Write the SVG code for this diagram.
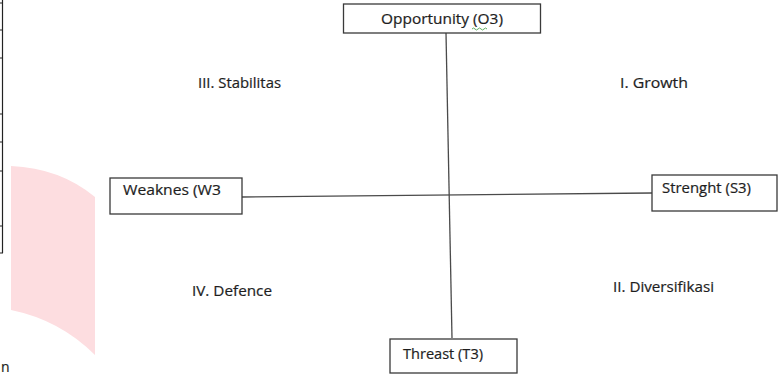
<svg xmlns="http://www.w3.org/2000/svg" width="779" height="375" viewBox="0 0 779 375">
<style>
.box{fill:#fff;stroke:#3a3a3a;stroke-width:1.3}
.t{font-family:"Open Sans","Liberation Sans",sans-serif;font-size:14px;fill:#1e1e1e;stroke:#1e1e1e;stroke-width:0.2}
.ln{stroke:#4a4a4a;stroke-width:1.3;fill:none}
.tb{stroke:#222;stroke-width:1.2;fill:none}
</style>
<rect width="779" height="375" fill="#fff"/>
<g id="table-fragment">
<path class="tb" d="M2.5 0V253"/>
<path class="tb" d="M0 3H3M0 30H3M0 58H3M0 114H3M0 142H3M0 171H3M0 226H3M0 253H3"/>
</g>
<path id="pink-shape" d="M11 166Q60 168 95 197V355Q60 320 11 310Z" fill="#fddde0"/>
<text class="t" x="1" y="372" font-size="8">n</text>
<g id="connectors">
<path class="ln" d="M446 33L452 338"/>
<path class="ln" d="M242 197L652 193"/>
</g>
<g id="opportunity">
<rect class="box" x="343.5" y="4" width="197" height="29"/>
<text class="t" x="381" y="24" textLength="122" lengthAdjust="spacingAndGlyphs">Opportunity (O3)</text>
<path d="M472 29q1.5-2 3 0t3 0t3 0t3 0t3 0" stroke="#3a9a3a" stroke-width="0.8" fill="none"/>
</g>
<g id="weakness">
<rect class="box" x="110" y="178" width="132" height="36"/>
<text class="t" x="123" y="195" textLength="98" lengthAdjust="spacingAndGlyphs">Weaknes (W3</text>
</g>
<g id="strength">
<rect class="box" x="652" y="175" width="125" height="36"/>
<text class="t" x="662" y="193" textLength="89" lengthAdjust="spacingAndGlyphs">Strenght (S3)</text>
</g>
<g id="threat">
<rect class="box" x="390" y="339" width="127" height="34"/>
<text class="t" x="403" y="359" textLength="80" lengthAdjust="spacingAndGlyphs">Threast (T3)</text>
</g>
<g id="quadrants">
<text class="t" x="198" y="88" textLength="83" lengthAdjust="spacingAndGlyphs">III. Stabilitas</text>
<text class="t" x="620" y="88" textLength="68" lengthAdjust="spacingAndGlyphs">I. Growth</text>
<text class="t" x="192" y="296" textLength="80" lengthAdjust="spacingAndGlyphs">IV. Defence</text>
<text class="t" x="613" y="292" textLength="101" lengthAdjust="spacingAndGlyphs">II. Diversifikasi</text>
</g>
</svg>
